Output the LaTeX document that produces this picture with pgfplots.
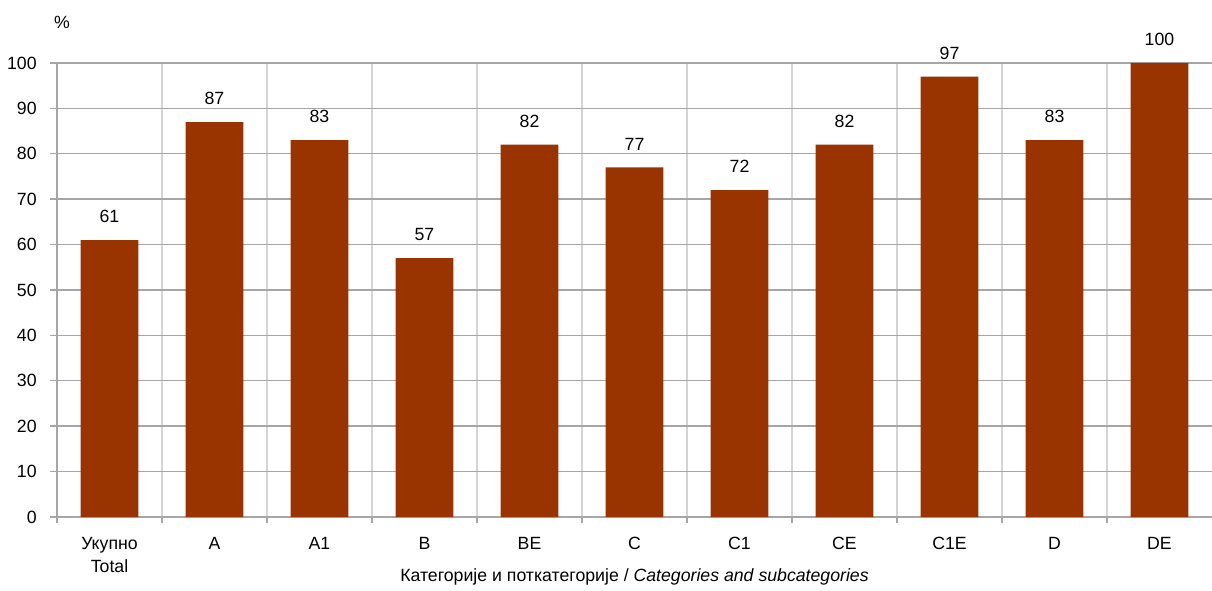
\documentclass[border=0pt]{standalone}
\usepackage{fontspec}
\setmainfont{Liberation Sans}
\usepackage{pgfplots}
\pgfplotsset{compat=1.18}
\definecolor{barbrown}{HTML}{993300}
\definecolor{hgrid}{HTML}{A6A6A6}
\definecolor{vgrid}{HTML}{D4D4D4}

\begin{document}
\begin{tikzpicture}[font=\fontsize{8.85}{11.5}\selectfont]
  \begin{axis}[
    at={(28.5pt,36.5pt)}, anchor=south west,
    scale only axis,
    width=577.5pt, height=227pt,
    xmin=-0.5, xmax=10.5,
    ymin=0, ymax=100,
    axis lines*=left,
    axis line style={draw=hgrid, line width=0.7pt},
    tick align=outside,
    ytick={0,10,...,100},
    xtick={0,...,10},
    xticklabels={{Укупно\\Total},A,A1,B,BE,C,C1,CE,C1E,D,DE},
    xticklabel style={align=center, anchor=north, yshift=-6.4pt, inner sep=0pt},
    yticklabel style={anchor=east, inner sep=0pt, xshift=-6.5pt},
    minor xtick={-0.5,0.5,...,9.5},
    every major x tick/.style={draw=none},
    major tick length=3.5pt,
    minor tick length=3pt,
    every tick/.style={draw=hgrid, line width=0.7pt},
    ymajorgrids=true,
    xminorgrids=true,
    major grid style={draw=hgrid, line width=0.7pt},
    minor grid style={draw=vgrid, line width=0.7pt},
    xlabel={Категорије и поткатегорије / \textit{Categories and subcategories}},
    xlabel style={at={(axis description cs:0.5,0)}, anchor=base, yshift=-32pt, inner sep=0pt},
    /pgf/number format/assume math mode=true,
    clip=false,
  ]
    \addplot[
      ybar, bar width=0.55, fill=barbrown, draw=none,
      nodes near coords,
      every node near coord/.append style={inner sep=0pt, yshift=8.5pt, text=black},
    ] coordinates {
      (0,61) (1,87) (2,83) (3,57) (4,82) (5,77)
      (6,72) (7,82) (8,97) (9,83) (10,100)
    };
    \node[anchor=base, inner sep=0pt, xshift=2.5pt, yshift=17.25pt] at (rel axis cs:0,1) {\%};
  \end{axis}
  \pgfresetboundingbox
  \useasboundingbox (0,0) rectangle (606pt,295pt);
\end{tikzpicture}
\end{document}
